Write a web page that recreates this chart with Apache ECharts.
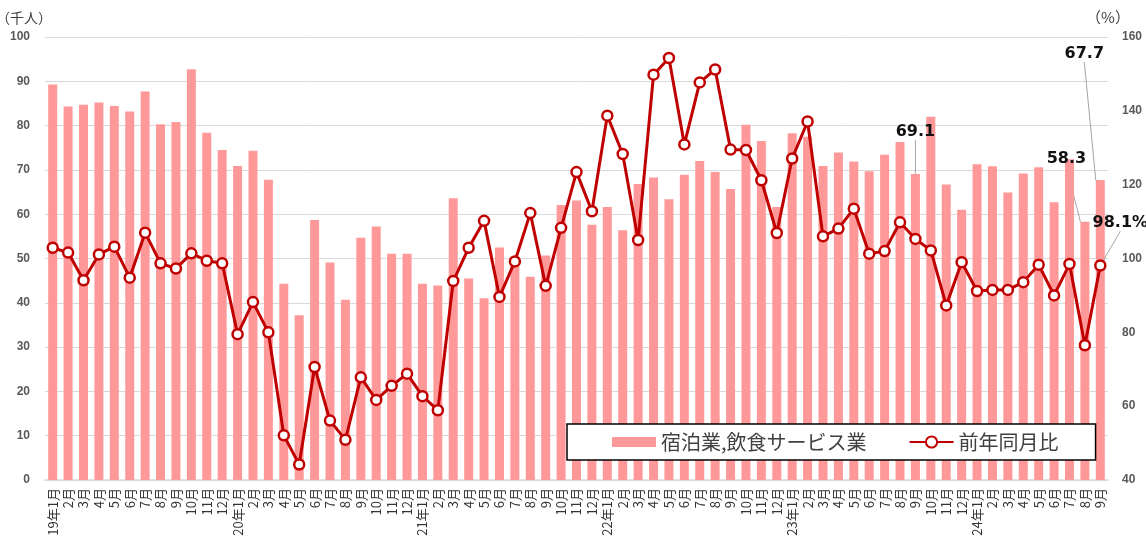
<!DOCTYPE html>
<html>
<head>
<meta charset="utf-8">
<script src="https://cdn.jsdelivr.net/npm/echarts@6/dist/echarts.min.js"></script>
<style>
html,body{margin:0;padding:0;background:#fff;}
#chart{width:1146px;height:541px;}
</style>
</head>
<body>
<div id="chart"></div>
<script>
// ---- data ----
const categories = [
  '19年1月','2月','3月','4月','5月','6月','7月','8月','9月','10月','11月','12月',
  '20年1月','2月','3月','4月','5月','6月','7月','8月','9月','10月','11月','12月',
  '21年1月','2月','3月','4月','5月','6月','7月','8月','9月','10月','11月','12月',
  '22年1月','2月','3月','4月','5月','6月','7月','8月','9月','10月','11月','12月',
  '23年1月','2月','3月','4月','5月','6月','7月','8月','9月','10月','11月','12月',
  '24年1月','2月','3月','4月','5月','6月','7月','8月','9月'
];
// 宿泊業,飲食サービス業 (千人)
const lodgingFood = [
  89.3, 84.3, 84.7, 85.2, 84.4, 83.2, 87.7, 80.3, 80.8, 92.7, 78.4, 74.5,
  70.9, 74.3, 67.8, 44.3, 37.2, 58.7, 49.1, 40.7, 54.7, 57.2, 51.1, 51.1,
  44.3, 43.9, 63.6, 45.5, 41.0, 52.5, 49.4, 45.9, 50.7, 62.1, 63.1, 57.6,
  61.6, 56.4, 66.8, 68.3, 63.4, 68.9, 72.0, 69.5, 65.7, 80.2, 76.5, 61.6,
  78.3, 77.5, 70.9, 73.9, 71.9, 69.7, 73.4, 76.3, 69.1, 82.0, 66.7, 61.0,
  71.3, 70.8, 64.9, 69.2, 70.6, 62.7, 72.4, 58.3, 67.7
];
// 前年同月比 (%)
const yoyRatio = [
  102.9, 101.6, 94.1, 101.1, 103.2, 94.8, 107.0, 98.7, 97.3, 101.4, 99.4, 98.7,
  79.5, 88.2, 80.0, 52.1, 44.2, 70.6, 56.1, 50.9, 67.8, 61.7, 65.5, 68.8,
  62.7, 58.9, 93.9, 102.9, 110.2, 89.6, 99.2, 112.3, 92.6, 108.3, 123.4, 112.8,
  138.7, 128.3, 105.0, 149.8, 154.3, 130.9, 147.7, 151.2, 129.5, 129.4, 121.2, 106.9,
  127.1, 137.1, 106.0, 108.1, 113.5, 101.3, 102.0, 109.8, 105.3, 102.2, 87.3, 99.0,
  91.2, 91.5, 91.5, 93.6, 98.3, 90.0, 98.5, 76.5, 98.1
];
const leftAxisRange = [0, 100, 10];
const rightAxisRange = [40, 160, 20];
const seriesNames = ['宿泊業,飲食サービス業', '前年同月比'];
const unitNames = ['（千人）', '（%）'];
// annotated points: index -> label offset [dx, dy]
const barNotes = { 56: [0, -29], 67: [-18.5, -50], 68: [-16, -113] };
const lineNotes = { 68: [20, -23] };

// ---- chart ----
const chart = echarts.init(document.getElementById('chart'), null, { renderer: 'canvas' });
const noteText = { fontFamily: 'DejaVu Sans', fontWeight: 'bold', fontSize: 16, color: '#111' };
const guide = { show: true, lineStyle: { color: '#a6a6a6', width: 1 } };

const barData = lodgingFood.map((v, i) => barNotes[i]
  ? { value: v, label: { show: true }, labelLine: guide }
  : v);
const lineData = yoyRatio.map((v, i) => lineNotes[i]
  ? { value: v, label: { show: true }, labelLine: guide }
  : v);

const axisLabelStyle = { fontFamily: 'Liberation Sans', fontWeight: 'bold', fontSize: 12, color: '#595959' };

chart.setOption({
  animation: false,
  backgroundColor: '#fff',
  grid: { left: 45, right: 38, top: 37, bottom: 61, containLabel: false, outerBoundsMode: 'none' },
  legend: {
    left: 567, top: 424,
    padding: [8, 37, 8, 45],
    itemGap: 42,
    itemWidth: 44, itemHeight: 14,
    symbolKeepAspect: true,
    borderColor: '#000', borderWidth: 1.5,
    backgroundColor: '#fff',
    textStyle: { fontFamily: 'Noto Sans CJK JP', fontSize: 20, color: '#404040' },
    data: [
      { name: seriesNames[0], icon: 'path://M0,0H44V10H0Z' },
      { name: seriesNames[1] }
    ]
  },
  xAxis: {
    type: 'category',
    data: categories,
    axisLine: { lineStyle: { color: '#d9d9d9', width: 1.5 } },
    axisTick: { show: false },
    axisLabel: {
      interval: 0, rotate: 90, margin: 8,
      fontFamily: 'Noto Sans CJK JP', fontSize: 13, color: '#333'
    }
  },
  yAxis: [
    {
      type: 'value', min: leftAxisRange[0], max: leftAxisRange[1], interval: leftAxisRange[2],
      name: unitNames[0], nameLocation: 'end', nameGap: 12,
      nameTextStyle: { fontFamily: 'Noto Sans CJK JP', fontSize: 14, color: '#404040', align: 'right', padding: [0, -7, 0, 0] },
      axisLine: { show: false }, axisTick: { show: false },
      axisLabel: Object.assign({ margin: 15 }, axisLabelStyle),
      splitLine: { lineStyle: { color: '#d9d9d9', width: 1 } }
    },
    {
      type: 'value', min: rightAxisRange[0], max: rightAxisRange[1], interval: rightAxisRange[2],
      name: unitNames[1], nameLocation: 'end', nameGap: 12,
      nameTextStyle: { fontFamily: 'Noto Sans CJK JP', fontSize: 15, color: '#404040', align: 'center' },
      axisLine: { show: false }, axisTick: { show: false },
      axisLabel: Object.assign({ margin: 14 }, axisLabelStyle),
      splitLine: { show: false }
    }
  ],
  series: [
    {
      name: seriesNames[0],
      type: 'bar',
      yAxisIndex: 0,
      data: barData,
      barWidth: 9,
      itemStyle: { color: '#ff9999' },
      label: Object.assign({ show: false, position: 'top', distance: 5 }, noteText),
      labelLayout: function (p) {
        const o = barNotes[p.dataIndex];
        return o ? { dx: o[0], dy: o[1] } : {};
      },
      z: 2
    },
    {
      name: seriesNames[1],
      type: 'line',
      yAxisIndex: 1,
      data: lineData,
      symbol: 'circle',
      symbolSize: 10,
      lineStyle: { color: '#c00000', width: 3 },
      itemStyle: { color: '#ffffff', borderColor: '#c00000', borderWidth: 2.5 },
      label: Object.assign({ show: false, position: 'top', distance: 5, formatter: '{c}%' }, noteText),
      labelLayout: function (p) {
        const o = lineNotes[p.dataIndex];
        return o ? { dx: o[0], dy: o[1] } : {};
      },
      z: 3
    }
  ]
});
</script>
</body>
</html>
